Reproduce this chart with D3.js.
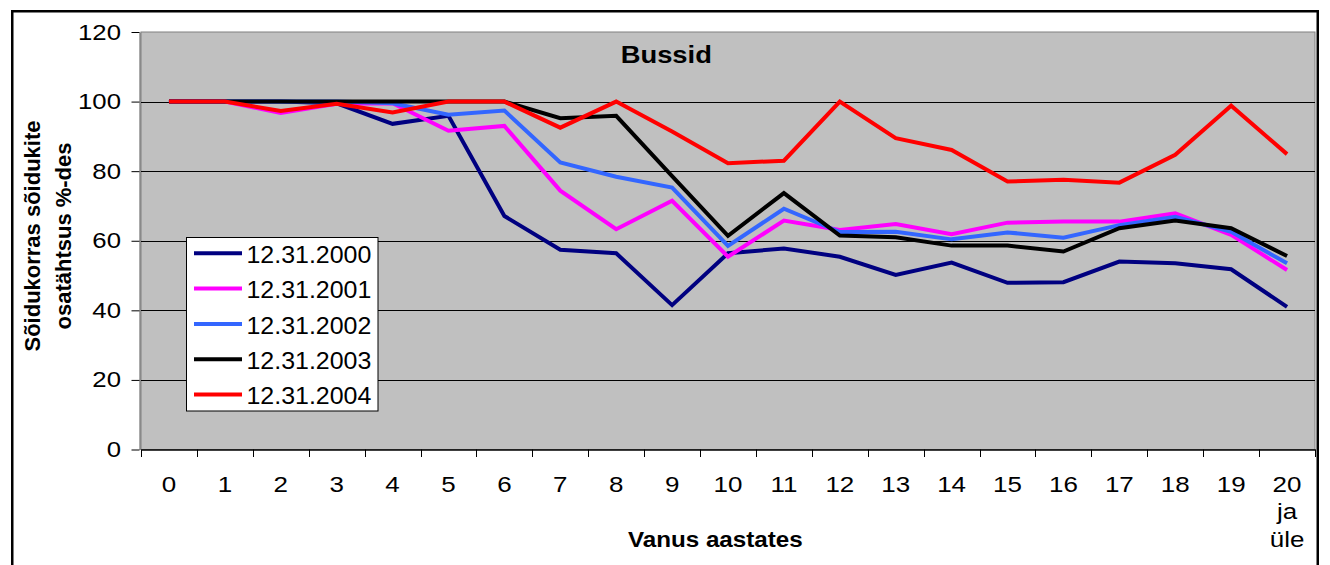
<!DOCTYPE html>
<html>
<head>
<meta charset="utf-8">
<script src="https://cdn.jsdelivr.net/npm/d3@7"></script>
<style>
  html, body { margin: 0; padding: 0; background: #fff; }
  svg { display: block; font-family: "Liberation Sans", Arial, sans-serif; }
</style>
</head>
<body>
<svg id="chart" width="1330" height="565"></svg>
<script>
// ---- data ----
const categories = ["0","1","2","3","4","5","6","7","8","9","10","11","12","13","14","15","16","17","18","19","20 ja üle"];
const xTickLabels = ["0","1","2","3","4","5","6","7","8","9","10","11","12","13","14","15","16","17","18","19","20\nja\nüle"];
const seriesNames = ["12.31.2000","12.31.2001","12.31.2002","12.31.2003","12.31.2004"];
const seriesColors = ["#000080","#FF00FF","#3366FF","#000000","#FF0000"];
const s2000 = [100,100,100,99.5,93.6,95.9,67.1,57.4,56.4,41.5,56.4,57.8,55.4,50.2,53.7,47.9,48.1,54.0,53.5,51.8,41.0];
const s2001 = [100,100,96.7,99.4,99.5,91.6,93.0,74.4,63.3,71.5,55.4,65.8,63.1,64.8,61.9,65.2,65.5,65.5,67.9,61.7,51.6];
const s2002 = [100,100,100,100,99.5,96.2,97.4,82.5,78.4,75.3,58.5,69.2,62.5,62.6,60.4,62.4,60.9,64.5,66.9,62.6,53.5];
const s2003 = [100,100,100,100,100,100,100,95.2,95.9,78.6,61.4,73.7,61.5,61.0,58.6,58.6,56.9,63.6,65.8,63.6,55.6];
const s2004 = [100,100,97.3,99.4,96.9,100,100,92.5,100,91.4,82.3,83.0,100,89.5,86.1,77.0,77.5,76.7,84.7,98.8,84.9];
const yTicks = [0,20,40,60,80,100,120];
const chartTitle = "Bussid";
const xTitle = "Vanus aastates";
const yTitleLines = ["Sõidukorras sõidukite","osatähtsus %-des"];

const seriesValues = [s2000, s2001, s2002, s2003, s2004];

// ---- layout ----
const L = 141, R = 1315, T = 32, B = 449.5;
const svg = d3.select("#chart");

// outer frame
svg.append("rect")
  .attr("x", 12.25).attr("y", 11.25)
  .attr("width", 1305.5).attr("height", 600)
  .attr("fill", "#fff").attr("stroke", "#000").attr("stroke-width", 2.5);

const x = d3.scaleBand().domain(categories).range([L, R]).padding(0);
const y = d3.scaleLinear().domain([0, 120]).range([B, T]);
const cx = c => x(c) + x.bandwidth() / 2;

// plot area
svg.append("rect")
  .attr("x", L).attr("y", T).attr("width", R - L).attr("height", B - T)
  .attr("fill", "#C0C0C0").attr("stroke", "#808080").attr("stroke-width", 1);

// gridlines
svg.append("g").selectAll("line")
  .data(yTicks.filter(v => v > 0 && v < 120))
  .join("line")
  .attr("x1", L).attr("x2", R)
  .attr("y1", d => Math.round(y(d)) + 0.5).attr("y2", d => Math.round(y(d)) + 0.5)
  .attr("stroke", "#000").attr("stroke-width", 1);

// y axis
const yAxis = svg.append("g")
  .attr("transform", `translate(${L - 1.5},0)`)
  .call(d3.axisLeft(y).tickValues(yTicks).tickSize(8).tickSizeOuter(0).tickPadding(0));
yAxis.select(".domain").attr("stroke", "#555");
yAxis.selectAll(".tick line").attr("stroke", "#000");
yAxis.selectAll(".tick text")
  .attr("x", 0).attr("dy", null).attr("y", 0)
  .attr("font-size", 22).attr("fill", "#000")
  .attr("text-anchor", "end")
  .attr("transform", "translate(-18.5,7) scale(1.17,1)");

// x axis (labels at category centers)
const xAxis = svg.append("g")
  .attr("transform", `translate(0,${B})`)
  .call(d3.axisBottom(x).tickSize(0).tickPadding(0).tickFormat((d, i) => xTickLabels[i]));
xAxis.select(".domain").attr("stroke", "#000").attr("stroke-width", 1.5);
xAxis.selectAll(".tick text").each(function(d, i) {
  const t = d3.select(this);
  const parts = xTickLabels[i].split("\n");
  t.text(null).attr("y", 0).attr("dy", null)
    .attr("font-size", 22).attr("fill", "#000")
    .attr("transform", "translate(0,42) scale(1.18,1)");
  parts.forEach((p, k) => {
    t.append("tspan").attr("x", 0).attr("y", k * 28).text(p);
  });
});
// x tick marks at category boundaries
const boundaries = categories.map(c => x(c)).concat([R]);
svg.append("g").selectAll("line")
  .data(boundaries)
  .join("line")
  .attr("x1", d => Math.round(d) + 0.5).attr("x2", d => Math.round(d) + 0.5)
  .attr("y1", B).attr("y2", B + 7.5)
  .attr("stroke", "#000").attr("stroke-width", 1);

// series lines
const line = d3.line()
  .x((d, i) => cx(categories[i]))
  .y(d => y(d));
svg.append("g").selectAll("path")
  .data(seriesValues)
  .join("path")
  .attr("d", d => line(d))
  .attr("fill", "none")
  .attr("stroke", (d, i) => seriesColors[i])
  .attr("stroke-width", 4)
  .attr("stroke-linejoin", "miter");

// title
svg.append("text")
  .attr("transform", "translate(666.3,63.3) scale(1.14,1)")
  .attr("text-anchor", "middle")
  .attr("font-size", 24).attr("font-weight", "bold")
  .text(chartTitle);

// x title
svg.append("text")
  .attr("transform", "translate(715.3,547) scale(1.1,1)")
  .attr("text-anchor", "middle")
  .attr("font-size", 22).attr("font-weight", "bold")
  .text(xTitle);

// y title
const yt = svg.append("g").attr("transform", "translate(0,236) rotate(-90)");
yTitleLines.forEach((t, k) => {
  yt.append("text")
    .attr("x", 0).attr("y", [39.5, 71][k])
    .attr("text-anchor", "middle")
    .attr("font-size", 22).attr("font-weight", "bold")
    .text(t);
});

// legend
const lg = svg.append("g");
lg.append("rect")
  .attr("x", 186.5).attr("y", 237.5).attr("width", 191.5).attr("height", 173.5)
  .attr("fill", "#fff").attr("stroke", "#000").attr("stroke-width", 1);
const items = lg.selectAll("g.item").data(seriesNames).join("g")
  .attr("class", "item")
  .attr("transform", (d, i) => `translate(0,${263 + i * 35.3})`);
items.append("line")
  .attr("x1", 194).attr("x2", 242).attr("y1", -9.7).attr("y2", -9.7)
  .attr("stroke", (d, i) => seriesColors[i]).attr("stroke-width", 4);
items.append("text")
  .attr("transform", "translate(246.5,0) scale(1.04,1)")
  .attr("font-size", 24).attr("fill", "#000")
  .text(d => d);
</script>
</body>
</html>
